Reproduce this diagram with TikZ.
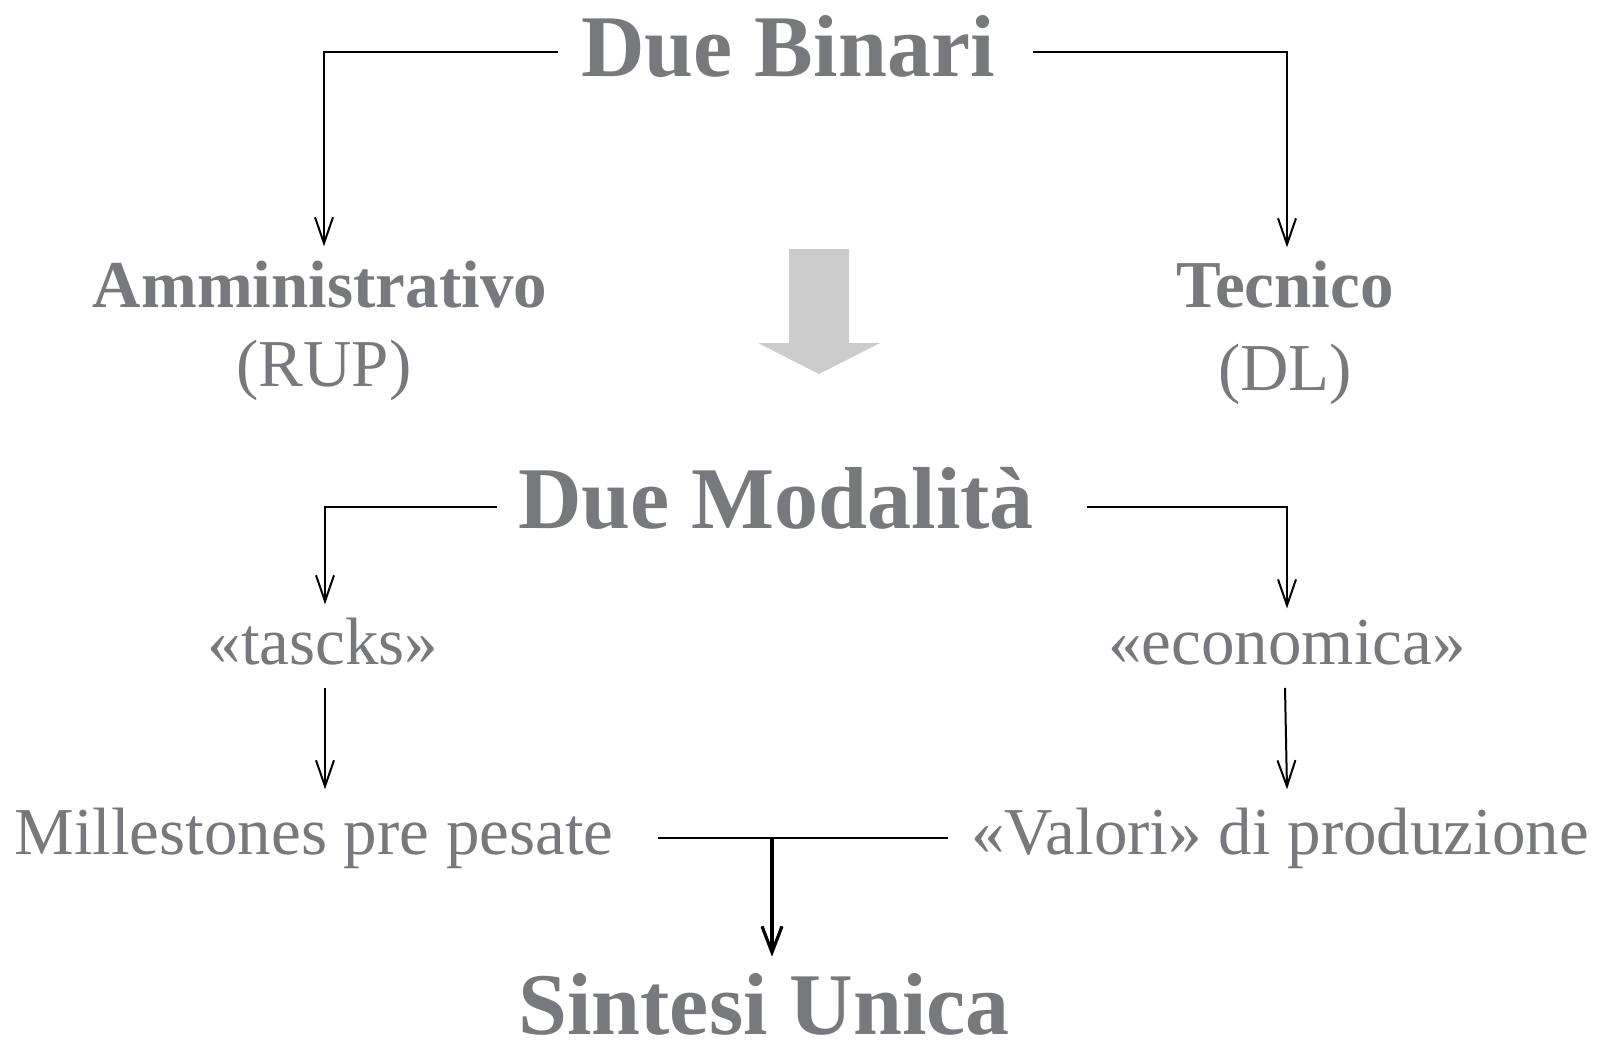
\documentclass[tikz,border=0pt]{standalone}
\usepackage{fontspec}
\setmainfont{Liberation Serif}
\definecolor{txtgray}{RGB}{120, 121, 125}
\definecolor{arrowgray}{RGB}{204, 204, 204}
\usetikzlibrary{arrows.meta, positioning, calc}
\tikzset{
  title/.style={inner sep=0pt, anchor=base, text=txtgray, font=\fontsize{88}{96}\selectfont\bfseries},
  branch/.style={inner sep=0pt, anchor=base, text=txtgray, font=\fontsize{67}{74}\selectfont\bfseries},
  label/.style={inner sep=0pt, anchor=base, text=txtgray, font=\fontsize{67}{74}\selectfont},
  conn/.style={line width=2pt, -{Straight Barb[length=26pt, width=18pt, line width=2pt]}},
  bigconn/.style={line width=3.2pt, -{Straight Barb[length=26pt, width=20pt, line width=3.2pt]}},
  plain/.style={line width=2pt}
}

\begin{document}
\begin{tikzpicture}[x=1pt, y=-1pt]
  \useasboundingbox (0,0) rectangle (1608,1047);

  % Due Binari
  \node[title] (binari) at (788, 76) {Due Binari};
  \node[branch] (ammin) at (320, 307) {Amministrativo};
  \node[label] (rup) at (324, 386) {(RUP)};
  \node[branch] (tecnico) at (1285, 307) {Tecnico};
  \node[label] (dl) at (1285, 390) {(DL)};

  \draw[conn] ($(binari.base west)+(-23,-24)$) -| ($(ammin.north)+(4,-14)$);
  \draw[conn] ($(binari.base east)+(38,-24)$) -| ($(tecnico.north)+(2,-13)$);

  % big arrow
  \fill[arrowgray] (789,249) -- (849,249) -- (849,343) -- (880,343) -- (819,374)
    -- (758,343) -- (789,343) -- cycle;

  % Due Modalita
  \node[title] (modal) at (776, 528) {Due Modalità};
  \node[label] (tascks) at (323, 664) {«tascks»};
  \node[label] (econ) at (1287, 664) {«economica»};
  \node[label] (mile) at (314, 854) {Millestones pre pesate};
  \node[label] (valori) at (1280, 854) {«Valori» di produzione};

  \draw[conn] ($(modal.base west)+(-21,-21)$) -| ($(tascks.north)+(2,-13)$);
  \draw[conn] ($(modal.base east)+(53,-21)$) -| ($(econ.north)+(0,-11)$);
  \draw[conn] ($(tascks.south)+(2,23)$) -- ($(tascks.south |- mile.north)+(2,-18)$);
  \draw[conn] ($(econ.south)+(-2,23)$) -- ($(econ.south |- valori.north)+(0,-18)$);

  % Sintesi Unica
  \node[title] (sintesi) at (764, 1034) {Sintesi Unica};
  \coordinate (join) at (772, 838);
  \draw[plain] ($(mile.base east)+(44,-16)$) -- ($(valori.base west)+(-23,-16)$);
  \draw[bigconn] (join) -- ($(join |- sintesi.north)+(0,-16)$);
\end{tikzpicture}
\end{document}
